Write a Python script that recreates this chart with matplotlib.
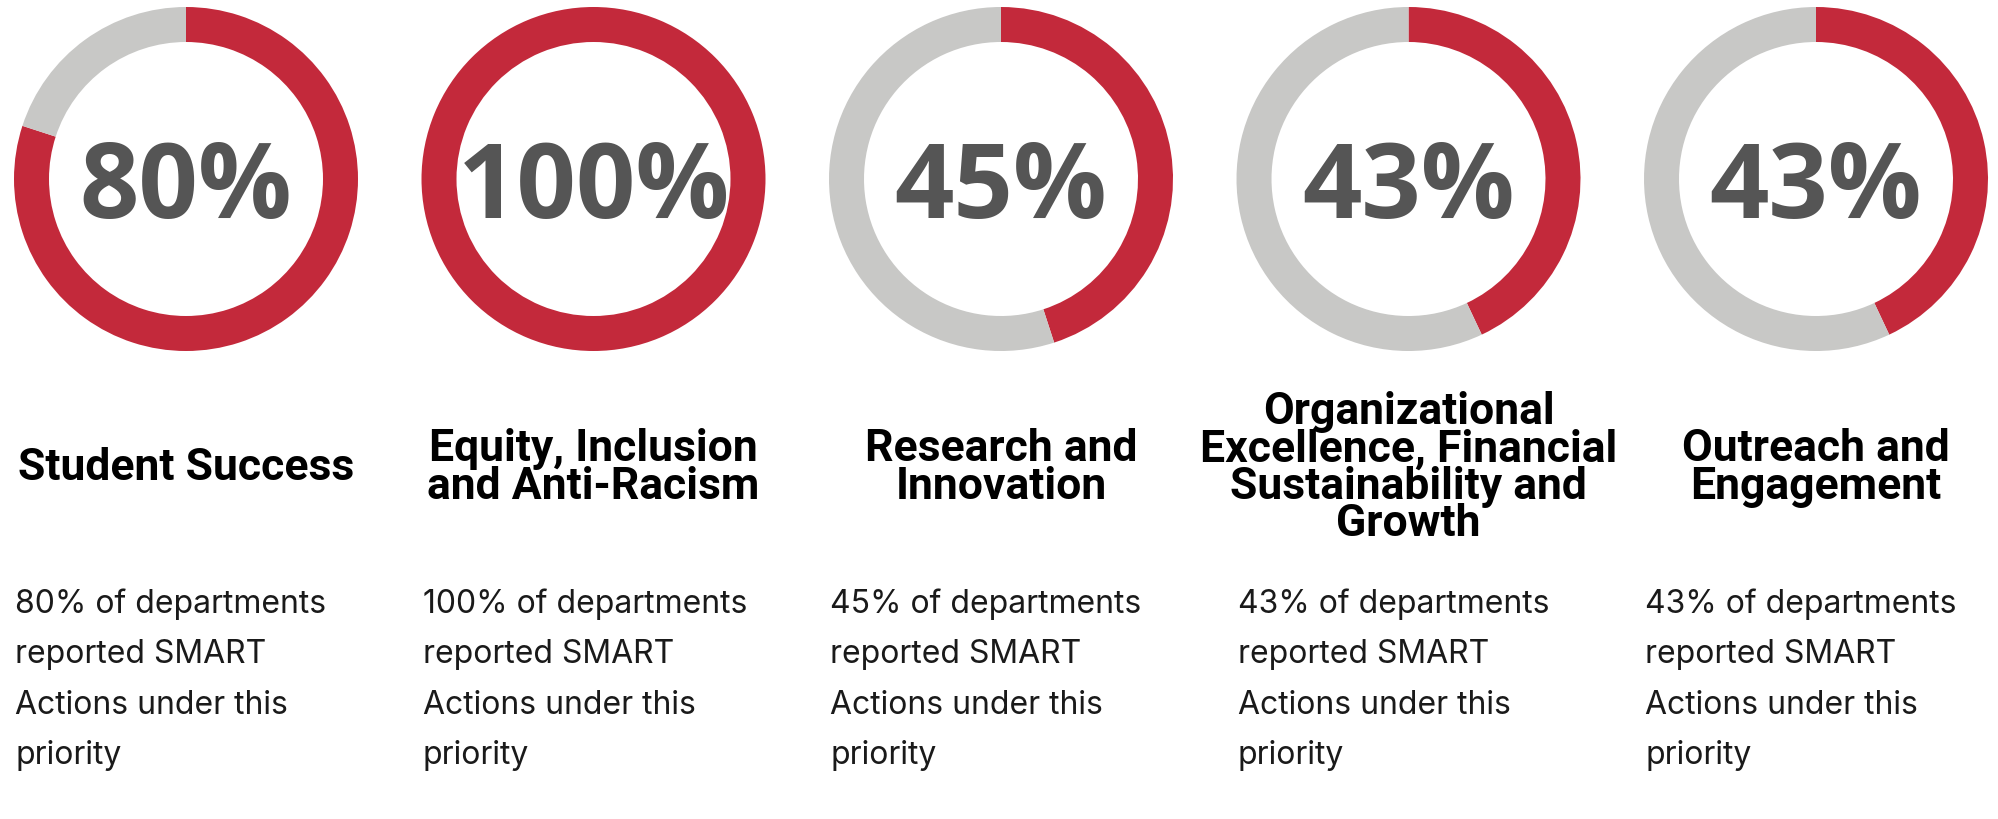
import matplotlib
matplotlib.use("Agg")
import matplotlib.pyplot as plt

# --- data -------------------------------------------------------------------
priorities = [
    "Student Success",
    "Equity, Inclusion\nand Anti-Racism",
    "Research and\nInnovation",
    "Organizational\nExcellence, Financial\nSustainability and\nGrowth",
    "Outreach and\nEngagement",
]
pct = [80, 100, 45, 43, 43]
blurb = "{}% of departments\nreported SMART\nActions under this\npriority"

RED = "#c3293b"
GREY = "#c8c8c6"
DARK = "#555555"

# --- layout (pixels, y downwards) -------------------------------------------
W, H = 1998, 820
x0, dx = 186, 407.5      # donut centres
cy = 180
r_out, ring = 172, 35
title_pitch, body_pitch = 37.5, 50.5

fig = plt.figure(figsize=(W / 100, H / 100), dpi=100)
ax = fig.add_axes([0, 0, 1, 1])

for i, (name, p) in enumerate(zip(priorities, pct)):
    cx = x0 + i * dx
    # y axis is inverted, so counterclock in data = clockwise on screen
    ax.pie([p, 100 - p], colors=[RED, GREY], center=(cx, cy), radius=r_out,
           startangle=270, counterclock=True,
           wedgeprops=dict(width=ring, linewidth=0))
    ax.text(cx, 218, f"{p}%", ha="center", va="baseline", fontsize=75,
            fontweight="bold", family=["Open Sans", "DejaVu Sans"], color=DARK)

    # title lines, block centred on the same height in every column
    lines = name.split("\n")
    first = 480 - (len(lines) - 1) * title_pitch / 2
    for k, ln in enumerate(lines):
        ax.text(cx, first + k * title_pitch, ln, ha="center", va="baseline",
                fontsize=32, fontweight="bold",
                family=["Roboto", "DejaVu Sans"], color="black")

    for k, ln in enumerate(blurb.format(p).split("\n")):
        ax.text(cx - 171, 613 + k * body_pitch, ln, ha="left", va="baseline",
                fontsize=23, family=["Inter", "DejaVu Sans"], color="#1a1a1a")

ax.set_xlim(0, W)
ax.set_ylim(H, 0)
ax.set_aspect("equal")
ax.axis("off")

fig.savefig("out.png", dpi=100, facecolor="white")
